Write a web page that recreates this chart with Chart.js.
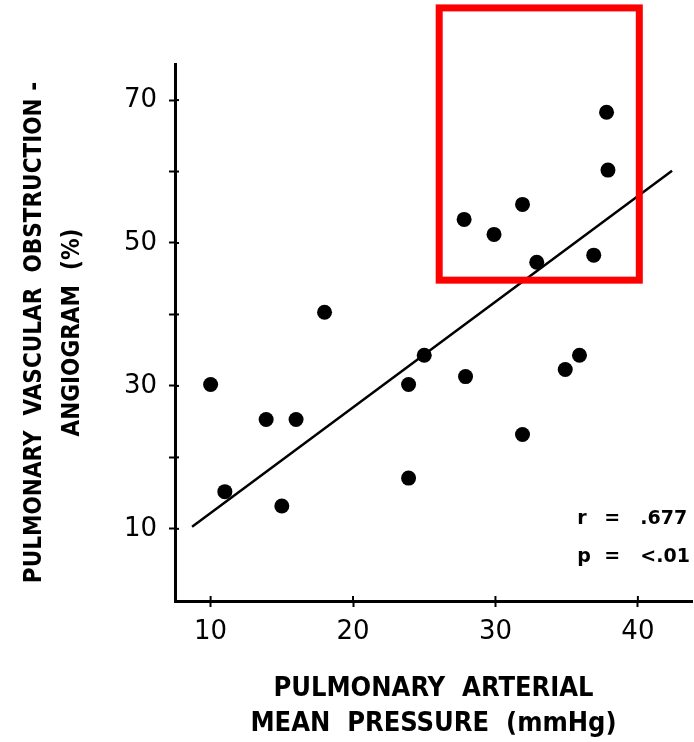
<!DOCTYPE html>
<html>
<head>
<meta charset="utf-8">
<script src="https://cdn.jsdelivr.net/npm/chart.js@4.4.1/dist/chart.umd.min.js"></script>
<style>
  html, body { margin: 0; padding: 0; background: #fff; }
  #wrap { width: 694px; height: 742px; position: relative; }
</style>
</head>
<body>
<div id="wrap"><canvas id="chart"></canvas></div>
<script>
// mean pulmonary arterial pressure (mmHg) vs angiographic obstruction (%)
const pressure    = [10, 11, 13.9, 15, 16, 18, 23.9, 23.9, 25, 27.8, 27.9, 29.9, 31.9, 31.9, 32.9, 34.9, 35.9, 36.9, 37.8, 37.9];
const obstruction = [30.2, 15.2, 25.3, 13.2, 25.3, 40.3, 30.2, 17.1, 34.3, 53.3, 31.3, 51.2, 55.4, 23.2, 47.3, 32.3, 34.3, 48.3, 68.3, 60.2];

// regression line end points
const fitX = [8.7, 42.4];
const fitY = [10.3, 60.1];

// highlighted region (data units)
const boxX = [26.05, 40.1];
const boxY = [44.8, 82.9];

const xTicks = [10, 20, 30, 40];
const yTicks = [10, 20, 30, 40, 50, 60, 70];
const yLabelled = [10, 30, 50, 70];

const statLabels = ['r', 'p'];
const statValues = ['.677', '<.01'];
const statX = 35.75;
const statY = [11.3, 6.1];

const titleFont = "'DejaVu Sans Condensed', 'Liberation Sans Narrow', 'DejaVu Sans', sans-serif";
const tickFont = "'DejaVu Sans', sans-serif";

const extras = {
  id: 'extras',
  afterDatasetsDraw(chart) {
    const { ctx, chartArea } = chart;
    const x = chart.scales.x;
    const y = chart.scales.y;
    ctx.save();

    // inner half of the tick marks (ticks cross the axis)
    ctx.strokeStyle = '#000';
    ctx.lineWidth = 2;
    yTicks.forEach((v) => {
      const py = y.getPixelForValue(v);
      ctx.beginPath();
      ctx.moveTo(chartArea.left, py);
      ctx.lineTo(chartArea.left + 4, py);
      ctx.stroke();
    });
    xTicks.forEach((v) => {
      const px = x.getPixelForValue(v);
      ctx.beginPath();
      ctx.moveTo(px, chartArea.bottom);
      ctx.lineTo(px, chartArea.bottom - 5);
      ctx.stroke();
    });

    // red highlight box
    const l = x.getPixelForValue(boxX[0]);
    const r = x.getPixelForValue(boxX[1]);
    const t = y.getPixelForValue(boxY[1]);
    const b = y.getPixelForValue(boxY[0]);
    ctx.strokeStyle = '#ff0000';
    ctx.lineWidth = 7;
    ctx.strokeRect(l, t, r - l, b - t);

    // r / p annotation
    ctx.fillStyle = '#000';
    ctx.font = "bold 19px 'DejaVu Sans', sans-serif";
    ctx.textBaseline = 'middle';
    ctx.textAlign = 'left';
    const sx = x.getPixelForValue(statX);
    statLabels.forEach((lab, i) => {
      const sy = y.getPixelForValue(statY[i]);
      ctx.fillText(lab, sx, sy);
      ctx.fillText('=', sx + 27, sy);
      ctx.fillText(statValues[i], sx + 63, sy);
    });
    ctx.restore();
  }
};

new Chart(document.getElementById('chart'), {
  type: 'scatter',
  data: {
    datasets: [
      {
        label: 'Patients',
        data: pressure.map((p, i) => ({ x: p, y: obstruction[i] })),
        backgroundColor: '#000',
        borderColor: '#000',
        pointRadius: 7.5,
        pointHoverRadius: 7.5,
        borderWidth: 0,
      },
      {
        label: 'Fit',
        type: 'line',
        data: fitX.map((v, i) => ({ x: v, y: fitY[i] })),
        borderColor: '#000',
        borderWidth: 2.5,
        pointRadius: 0,
        fill: false,
        clip: false,
      },
    ],
  },
  options: {
    responsive: true,
    maintainAspectRatio: false,
    animation: false,
    layout: {
      autoPadding: false,
      padding: { top: 64, right: 2, left: 0, bottom: 0 },
    },
    plugins: {
      legend: { display: false },
      tooltip: { enabled: false },
    },
    scales: {
      x: {
        type: 'linear',
        min: 7.5,
        max: 43.8,
        afterBuildTicks: (scale) => {
          scale.ticks = xTicks.map((v) => ({ value: v }));
        },
        afterFit: (scale) => {
          scale.height = 141;
        },
        border: { color: '#000', width: 3 },
        grid: {
          drawOnChartArea: false,
          drawTicks: true,
          tickLength: 6,
          tickWidth: 2,
          tickColor: '#000',
        },
        ticks: {
          color: '#000',
          font: { family: tickFont, size: 26 },
          padding: 10,
          maxRotation: 0,
          autoSkip: false,
        },
        title: {
          display: true,
          text: ['PULMONARY  ARTERIAL', 'MEAN  PRESSURE  (mmHg)'],
          color: '#000',
          font: { family: titleFont, weight: 'bold', size: 27, lineHeight: 1.3 },
          padding: { top: 0, bottom: 0 },
        },
      },
      y: {
        type: 'linear',
        min: -0.1,
        max: 75.05,
        afterBuildTicks: (scale) => {
          scale.ticks = yTicks.map((v) => ({ value: v }));
        },
        afterFit: (scale) => {
          scale.width = 175;
        },
        border: { color: '#000', width: 3 },
        grid: {
          drawOnChartArea: false,
          drawTicks: true,
          tickLength: 6,
          tickWidth: 2,
          tickColor: '#000',
        },
        ticks: {
          color: '#000',
          font: { family: tickFont, size: 26 },
          padding: 12,
          autoSkip: false,
          callback: (value) => (yLabelled.includes(value) ? String(value) : ''),
        },
        title: {
          display: true,
          text: ['PULMONARY  VASCULAR  OBSTRUCTION -', 'ANGIOGRAM  (%)'],
          color: '#000',
          font: { family: titleFont, weight: 'bold', size: 24, lineHeight: 1.58 },
          padding: { top: 16, bottom: 0 },
        },
      },
    },
  },
  plugins: [extras],
});
</script>
</body>
</html>
